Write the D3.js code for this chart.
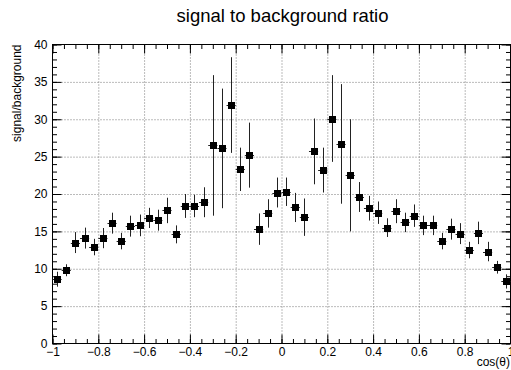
<!DOCTYPE html>
<html>
<head>
<meta charset="utf-8">
<script src="https://cdn.jsdelivr.net/npm/d3@7"></script>
<style>
  body { margin: 0; background: #fff; }
  svg { display: block; font-family: "Liberation Sans", Arial, sans-serif; }
  .grid line { stroke: #777; stroke-dasharray: 1,2; }
  .grid .domain { display: none; }
  .axis .domain { display: none; }
  .axis line { stroke: #000; }
  .axis text { font-size: 12px; fill: #000; }
</style>
</head>
<body>
<div id="chart"></div>
<script>
// bin centres of cos(theta), 50 bins of width 0.04
var binCenters = [-0.98, -0.94, -0.90, -0.86, -0.82, -0.78, -0.74, -0.70, -0.66, -0.62,
                  -0.58, -0.54, -0.50, -0.46, -0.42, -0.38, -0.34, -0.30, -0.26, -0.22,
                  -0.18, -0.14, -0.10, -0.06, -0.02, 0.02, 0.06, 0.10, 0.14, 0.18,
                  0.22, 0.26, 0.30, 0.34, 0.38, 0.42, 0.46, 0.50, 0.54, 0.58,
                  0.62, 0.66, 0.70, 0.74, 0.78, 0.82, 0.86, 0.90, 0.94, 0.98];
var binHalfWidth = 0.02;

// signal/background ratio per bin
var ratio = [8.6, 9.8, 13.5, 14.1, 12.9, 14.1, 16.1, 13.7, 15.7, 15.8,
             16.8, 16.5, 17.8, 14.6, 18.4, 18.4, 18.9, 26.5, 26.1, 31.9,
             23.3, 25.2, 15.3, 17.4, 20.2, 20.3, 18.2, 16.9, 25.7, 23.2,
             30.1, 26.7, 22.5, 19.6, 18.1, 17.5, 15.5, 17.7, 16.2, 17.1,
             15.8, 15.8, 13.7, 15.3, 14.7, 12.5, 14.8, 12.3, 10.2, 8.3];

// statistical error per bin
var ratioErr = [1.0, 0.8, 1.4, 1.4, 1.1, 1.35, 1.4, 1.1, 1.4, 1.45,
                1.35, 1.4, 1.7, 1.2, 1.6, 1.5, 2.0, 9.4, 8.0, 6.4,
                2.9, 4.35, 2.1, 1.9, 2.0, 1.9, 1.95, 2.5, 4.4, 3.0,
                5.8, 8.0, 7.5, 2.0, 1.65, 1.5, 1.25, 1.6, 1.3, 1.5,
                1.3, 1.3, 1.1, 1.4, 1.4, 1.1, 1.5, 1.3, 0.85, 0.95];

var xMajor = [-1, -0.8, -0.6, -0.4, -0.2, 0, 0.2, 0.4, 0.6, 0.8, 1];
var yMajor = [0, 5, 10, 15, 20, 25, 30, 35, 40];

var width = 511, height = 370;
var frame = {left: 52.5, right: 510.5, top: 44.5, bottom: 343.5};

var x = d3.scaleLinear().domain([-1, 1]).range([frame.left, frame.right]);
var y = d3.scaleLinear().domain([0, 40]).range([frame.bottom, frame.top]);

var svg = d3.select("#chart").append("svg")
    .attr("width", width)
    .attr("height", height);

// minor tick positions
var xMinor = d3.range(-1, 1.0001, 0.05).map(function(d) { return +d.toFixed(2); });
var yMinor = d3.range(0, 40.0001, 1);

var fmt = function(d) {
    var s = d3.format("")(+d.toFixed(1));
    return s.replace("-", "\u2212");
};

// grid
svg.append("g")
    .attr("class", "grid")
    .attr("transform", "translate(0," + frame.bottom + ")")
    .call(d3.axisBottom(x).tickValues(xMajor.slice(1, -1)).tickSize(-(frame.bottom - frame.top)).tickFormat(""));
svg.append("g")
    .attr("class", "grid")
    .attr("transform", "translate(" + frame.left + ",0)")
    .call(d3.axisLeft(y).tickValues(yMajor.slice(1, -1)).tickSize(-(frame.right - frame.left)).tickFormat(""));

// bottom axis
svg.append("g")
    .attr("class", "axis")
    .attr("transform", "translate(0," + frame.bottom + ")")
    .call(d3.axisBottom(x).tickValues(xMinor).tickSize(-4.5).tickFormat(""));
svg.append("g")
    .attr("class", "axis")
    .attr("transform", "translate(0," + frame.bottom + ")")
    .call(d3.axisBottom(x).tickValues(xMajor).tickSize(-9).tickPadding(4).tickFormat(fmt));

// top axis
svg.append("g")
    .attr("class", "axis")
    .attr("transform", "translate(0," + frame.top + ")")
    .call(d3.axisTop(x).tickValues(xMinor).tickSize(-4.5).tickFormat(""));
svg.append("g")
    .attr("class", "axis")
    .attr("transform", "translate(0," + frame.top + ")")
    .call(d3.axisTop(x).tickValues(xMajor).tickSize(-9).tickFormat(""));

// left axis
svg.append("g")
    .attr("class", "axis")
    .attr("transform", "translate(" + frame.left + ",0)")
    .call(d3.axisLeft(y).tickValues(yMinor).tickSize(-4.5).tickFormat(""));
svg.append("g")
    .attr("class", "axis")
    .attr("transform", "translate(" + frame.left + ",0)")
    .call(d3.axisLeft(y).tickValues(yMajor).tickSize(-9).tickPadding(5).tickFormat(d3.format("d")));

// right axis
svg.append("g")
    .attr("class", "axis")
    .attr("transform", "translate(" + frame.right + ",0)")
    .call(d3.axisRight(y).tickValues(yMinor).tickSize(-4.5).tickFormat(""));
svg.append("g")
    .attr("class", "axis")
    .attr("transform", "translate(" + frame.right + ",0)")
    .call(d3.axisRight(y).tickValues(yMajor).tickSize(-9).tickFormat(""));

// frame
svg.append("rect")
    .attr("x", frame.left)
    .attr("y", frame.top)
    .attr("width", frame.right - frame.left)
    .attr("height", frame.bottom - frame.top)
    .style("fill", "none")
    .style("stroke", "#000");

var data = binCenters.map(function(c, i) {
    return {x: c, v: ratio[i], e: ratioErr[i]};
});

var points = svg.append("g").selectAll(".pt")
    .data(data)
  .enter().append("g")
    .attr("class", "pt");

// vertical error bars
points.append("line")
    .attr("x1", function(d) { return Math.round(x(d.x)) + 0.5; })
    .attr("x2", function(d) { return Math.round(x(d.x)) + 0.5; })
    .attr("y1", function(d) { return y(d.v - d.e); })
    .attr("y2", function(d) { return y(d.v + d.e); })
    .style("stroke", "#222");

// horizontal (bin width) bars
points.append("line")
    .attr("x1", function(d) { return x(d.x - binHalfWidth); })
    .attr("x2", function(d) { return x(d.x + binHalfWidth); })
    .attr("y1", function(d) { return Math.round(y(d.v)) + 0.5; })
    .attr("y2", function(d) { return Math.round(y(d.v)) + 0.5; })
    .style("stroke", "#222");

// markers
points.append("rect")
    .attr("x", function(d) { return Math.round(x(d.x)) + 0.5 - 3.5; })
    .attr("y", function(d) { return Math.round(y(d.v)) + 0.5 - 3.5; })
    .attr("width", 7)
    .attr("height", 7)
    .style("fill", "#000");

// title and axis labels
svg.append("text")
    .attr("x", 282.5)
    .attr("y", 22)
    .attr("text-anchor", "middle")
    .style("font-size", "18.5px")
    .text("signal to background ratio");

svg.append("text")
    .attr("transform", "translate(21," + frame.top + ") rotate(-90)")
    .attr("text-anchor", "end")
    .style("font-size", "12px")
    .text("signal/background");

svg.append("text")
    .attr("x", 510)
    .attr("y", 366)
    .attr("text-anchor", "end")
    .style("font-size", "12px")
    .text("cos(\u03b8)");
</script>
</body>
</html>
